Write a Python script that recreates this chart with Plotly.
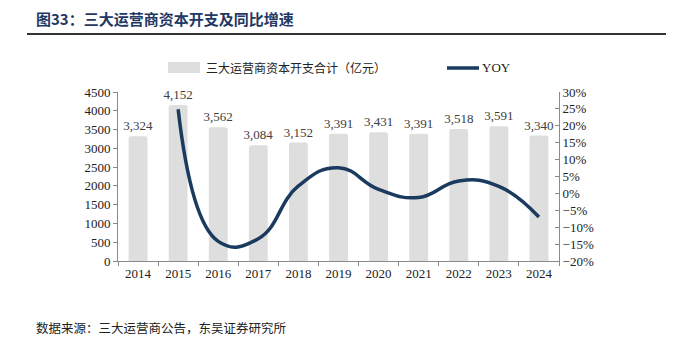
import plotly.graph_objects as go

years = ["2014", "2015", "2016", "2017", "2018", "2019", "2020", "2021", "2022", "2023", "2024"]
capex = [3324, 4152, 3562, 3084, 3152, 3391, 3431, 3391, 3518, 3591, 3340]
yoy = [None, 24.9, -14.2, -13.4, 2.2, 7.6, 1.2, -1.2, 3.7, 2.1, -7.0]

bar_name = "三大运营商资本开支合计（亿元）"
line_name = "YOY"
title_text = "图33：三大运营商资本开支及同比增速"
source_text = "数据来源：三大运营商公告，东吴证券研究所"

W, H = 678, 341
L, R, T, B = 118, 559, 92, 261

def px(x):
    return (x - L) / (R - L)

def py(y):
    return (B - y) / (B - T)

serif = "Liberation Serif, Times New Roman, serif"
cjk = "Noto Sans CJK SC"
navy = "#1a3a5e"
axis_col = "#8a8a8a"

fig = go.Figure()
fig.add_trace(go.Bar(
    x=years, y=capex, name=bar_name,
    marker=dict(color="#dedede", line=dict(width=0)),
    width=0.47,
    text=capex, texttemplate="%{y:,}", textposition="outside",
    constraintext="none",
    textfont=dict(family=serif, size=13, color="#404040"),
    cliponaxis=False, showlegend=False,
))
fig.add_trace(go.Scatter(
    x=years, y=yoy, name=line_name, yaxis="y2", mode="lines",
    line=dict(color=navy, width=3.5, shape="spline", smoothing=1.3),
    connectgaps=False, showlegend=False,
))

fig.update_layout(
    width=W, height=H,
    margin=dict(l=L, r=W - R, t=T, b=H - B),
    paper_bgcolor="white", plot_bgcolor="white",
    bargap=0.5,
    barcornerradius=2,
    xaxis=dict(
        type="category", showline=True, linecolor=axis_col, linewidth=1,
        ticks="outside", tickson="boundaries", ticklen=4, tickcolor=axis_col,
        tickfont=dict(family=serif, size=13, color="#222"),
        showgrid=False, zeroline=False,
    ),
    yaxis=dict(
        range=[0, 4500], dtick=500, tickformat="d",
        showline=True, linecolor=axis_col, linewidth=1,
        ticks="outside", ticklen=4, tickcolor=axis_col,
        tickfont=dict(family=serif, size=13, color="#222"),
        showgrid=False, zeroline=False,
    ),
    yaxis2=dict(
        overlaying="y", side="right", range=[-20, 30], dtick=5, ticksuffix="%",
        showline=True, linecolor=axis_col, linewidth=1,
        ticks="inside", ticklen=4, tickcolor=axis_col,
        tickfont=dict(family=serif, size=13, color="#222"),
        showgrid=False, zeroline=False,
    ),
    showlegend=False,
)

# title and underline
fig.add_annotation(xref="paper", yref="paper", x=px(34), y=py(18), xanchor="left", yanchor="middle",
                   text="<b>" + title_text + "</b>", showarrow=False,
                   font=dict(family=cjk, size=15, color="#1f3864"))
fig.add_shape(type="line", xref="paper", yref="paper", x0=px(27), x1=px(666), y0=py(34), y1=py(34),
              line=dict(color="#333333", width=2))

# legend
fig.add_shape(type="rect", xref="paper", yref="paper", x0=px(168), x1=px(200), y0=py(73), y1=py(62),
              fillcolor="#dedede", line=dict(width=0))
fig.add_annotation(xref="paper", yref="paper", x=px(204), y=py(68), xanchor="left", yanchor="middle",
                   text=bar_name, showarrow=False, font=dict(family=cjk, size=12, color="#222"))
fig.add_shape(type="line", xref="paper", yref="paper", x0=px(447), x1=px(479), y0=py(68), y1=py(68),
              line=dict(color=navy, width=3.5))
fig.add_annotation(xref="paper", yref="paper", x=px(480), y=py(68), xanchor="left", yanchor="middle",
                   text=line_name, showarrow=False, font=dict(family=serif, size=13, color="#222"))

# source
fig.add_annotation(xref="paper", yref="paper", x=px(34), y=py(327), xanchor="left", yanchor="middle",
                   text=source_text, showarrow=False, font=dict(family=cjk, size=12.5, color="#222"))

fig.write_html("out.html")
